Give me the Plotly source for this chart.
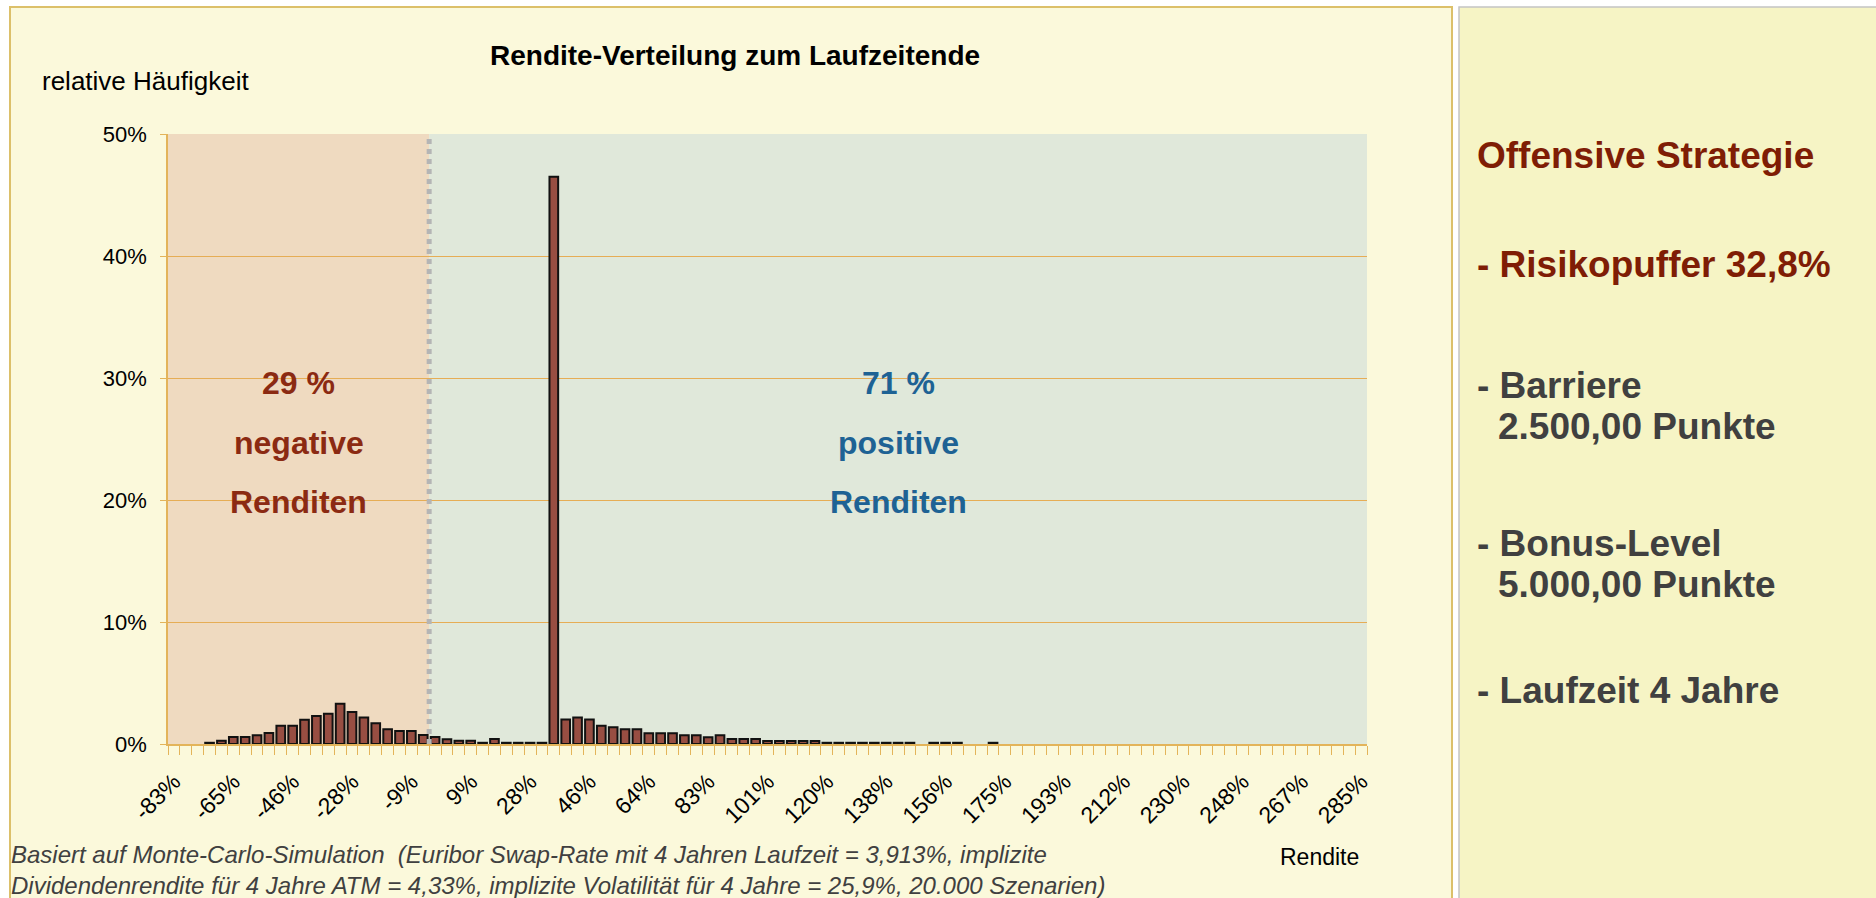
import plotly.graph_objects as go

# relative frequency per return bin, in percent (bin width ~3.68 %-points, first bin ~ -83%)
freq = [
    0, 0, 0, 0.1, 0.27, 0.58, 0.58, 0.71, 0.9, 1.5,
    1.5, 1.98, 2.3, 2.47, 3.29, 2.63, 2.17, 1.7, 1.2, 1.07,
    1.07, 0.74, 0.58, 0.38, 0.27, 0.27, 0.1, 0.41, 0.1, 0.1,
    0.1, 0.1, 46.5, 2.0, 2.17, 2.0, 1.5, 1.37, 1.2, 1.2,
    0.88, 0.88, 0.88, 0.71, 0.71, 0.55, 0.71, 0.41, 0.41, 0.41,
    0.25, 0.25, 0.25, 0.25, 0.25, 0.1, 0.1, 0.1, 0.1, 0.1,
    0.1, 0.1, 0.1, 0, 0.1, 0.1, 0.1, 0, 0, 0.1,
    0, 0, 0, 0, 0, 0, 0, 0, 0, 0,
    0, 0, 0, 0, 0, 0, 0, 0, 0, 0,
    0, 0, 0, 0, 0, 0, 0, 0, 0, 0,
    0,
]
tick_labels = ["-83%", "-65%", "-46%", "-28%", "-9%", "9%", "28%", "46%", "64%", "83%",
               "101%", "120%", "138%", "156%", "175%", "193%", "212%", "230%", "248%",
               "267%", "285%"]
label_every = 5
zero_boundary = 21.5  # between bin 21 and 22

neg_lines = ["29 %", "negative", "Renditen"]
pos_lines = ["71 %", "positive", "Renditen"]

side_lines = [
    ("Offensive Strategie", "#7f1d05", 0),
    ("- Risikopuffer 32,8%", "#7f1d05", 0),
    ("- Barriere", "#404040", 0),
    ("2.500,00 Punkte", "#404040", 1),
    ("- Bonus-Level", "#404040", 0),
    ("5.000,00 Punkte", "#404040", 1),
    ("- Laufzeit 4 Jahre", "#404040", 0),
]
side_y = [155, 264, 385, 426, 543, 584, 690]

footnote = ("Basiert auf Monte-Carlo-Simulation  (Euribor Swap-Rate mit 4 Jahren Laufzeit = 3,913%, implizite<br>"
            "Dividendenrendite für 4 Jahre ATM = 4,33%, implizite Volatilität für 4 Jahre = 25,9%, 20.000 Szenarien)")

W, H = 1876, 898
L, R, T, B = 168, 1367, 134, 744
FONT = "Liberation Sans, Arial, sans-serif"
GOLD = "#e3b45a"


def px(x):
    return (x - L) / (R - L)


def py(y):
    return (B - y) / (B - T)


n = len(freq)
fig = go.Figure(
    go.Bar(
        x=list(range(n)),
        y=[v / 100 if v else None for v in freq],
        marker={"color": "#984e42", "line": {"color": "#111111", "width": 2}},
        hovertemplate="%{y:.2%}<extra></extra>",
    )
)

shapes = [
    # chart panel and side panel
    dict(type="rect", xref="paper", yref="paper", x0=px(10), x1=px(1452), y0=py(7), y1=py(910),
         fillcolor="#fbf9db", line={"color": "#dcc06a", "width": 2}, layer="below"),
    dict(type="rect", xref="paper", yref="paper", x0=px(1459), x1=px(1885), y0=py(7), y1=py(910),
         fillcolor="#f6f4c5", line={"color": "#c4c4c4", "width": 1.5}, layer="below"),
    # negative / positive regions
    dict(type="rect", xref="x", yref="y", x0=-0.5, x1=zero_boundary, y0=0, y1=0.5,
         fillcolor="#efdac0", line={"width": 0}, layer="below"),
    dict(type="rect", xref="x", yref="y", x0=zero_boundary, x1=n - 0.5, y0=0, y1=0.5,
         fillcolor="#e0e8da", line={"width": 0}, layer="below"),
    dict(type="line", xref="x", yref="y", x0=zero_boundary, x1=zero_boundary, y0=0, y1=0.5,
         line={"color": "#b5b5b5", "width": 5, "dash": "dot"}),
]

annotations = [
    dict(text="<b>Rendite-Verteilung zum Laufzeitende</b>", x=px(735), y=py(55),
         font={"size": 28, "color": "#000000"}),
    dict(text="relative Häufigkeit", x=px(40), y=py(81), xanchor="left",
         font={"size": 26, "color": "#000000"}),
    dict(text="Rendite", x=px(1319), y=py(857), font={"size": 23, "color": "#000000"}),
    dict(text="<i>" + footnote + "</i>", x=px(9), y=py(870), xanchor="left", align="left",
         font={"size": 24, "color": "#404040"}),
]
for txt, yy in zip(neg_lines, [383, 443, 502]):
    annotations.append(dict(text=f"<b>{txt}</b>", xref="x", x=(zero_boundary - 0.5) / 2,
                            y=py(yy), font={"size": 32, "color": "#8b2a12"}))
for txt, yy in zip(pos_lines, [383, 443, 502]):
    annotations.append(dict(text=f"<b>{txt}</b>", xref="x", x=(zero_boundary + n - 0.5) / 2,
                            y=py(yy), font={"size": 32, "color": "#1e6294"}))
for (txt, col, indent), yy in zip(side_lines, side_y):
    annotations.append(dict(text=f"<b>{txt}</b>", x=px(1475 + 21 * indent), y=py(yy),
                            xanchor="left", font={"size": 37, "color": col}))
for a in annotations:
    a.setdefault("xref", "paper")
    a.setdefault("yref", "paper")
    a.setdefault("showarrow", False)
    a.setdefault("xanchor", "center")
    a.setdefault("yanchor", "middle")

fig.update_layout(
    width=W,
    height=H,
    margin={"l": L, "r": W - R, "t": T, "b": H - B, "pad": 0},
    paper_bgcolor="#ffffff",
    plot_bgcolor="#e0e8da",
    font={"family": FONT, "color": "#000000"},
    showlegend=False,
    bargap=0.27,
    shapes=shapes,
    annotations=annotations,
    xaxis={
        "range": [-0.5, n - 0.5],
        "tickmode": "array",
        "tickvals": list(range(0, n, label_every)),
        "ticktext": tick_labels,
        "tickangle": -45,
        "ticks": "",
        "ticklabelstandoff": 13,
        "tickfont": {"size": 23, "color": "#000000"},
        "showgrid": False,
        "zeroline": False,
        "showline": True,
        "linecolor": GOLD,
        "linewidth": 2,
        "minor": {"tickmode": "array", "tickvals": [k - 0.5 for k in range(n + 1)],
                  "ticks": "outside", "ticklen": 9, "tickcolor": GOLD, "tickwidth": 1,
                  "showgrid": False},
    },
    yaxis={
        "range": [0, 0.5],
        "dtick": 0.1,
        "tickformat": ".0%",
        "ticks": "outside",
        "ticklen": 6,
        "tickcolor": GOLD,
        "ticklabelstandoff": 9,
        "tickfont": {"size": 22, "color": "#000000"},
        "showgrid": True,
        "gridcolor": "#e6ad55",
        "gridwidth": 1,
        "zeroline": False,
        "showline": True,
        "linecolor": GOLD,
        "linewidth": 1.5,
    },
)

# the page body has a default 8px margin; drop it so the figure fills the window exactly
fig.write_html("out.html", config={"displayModeBar": False},
               post_script="document.body.style.margin='0';")
